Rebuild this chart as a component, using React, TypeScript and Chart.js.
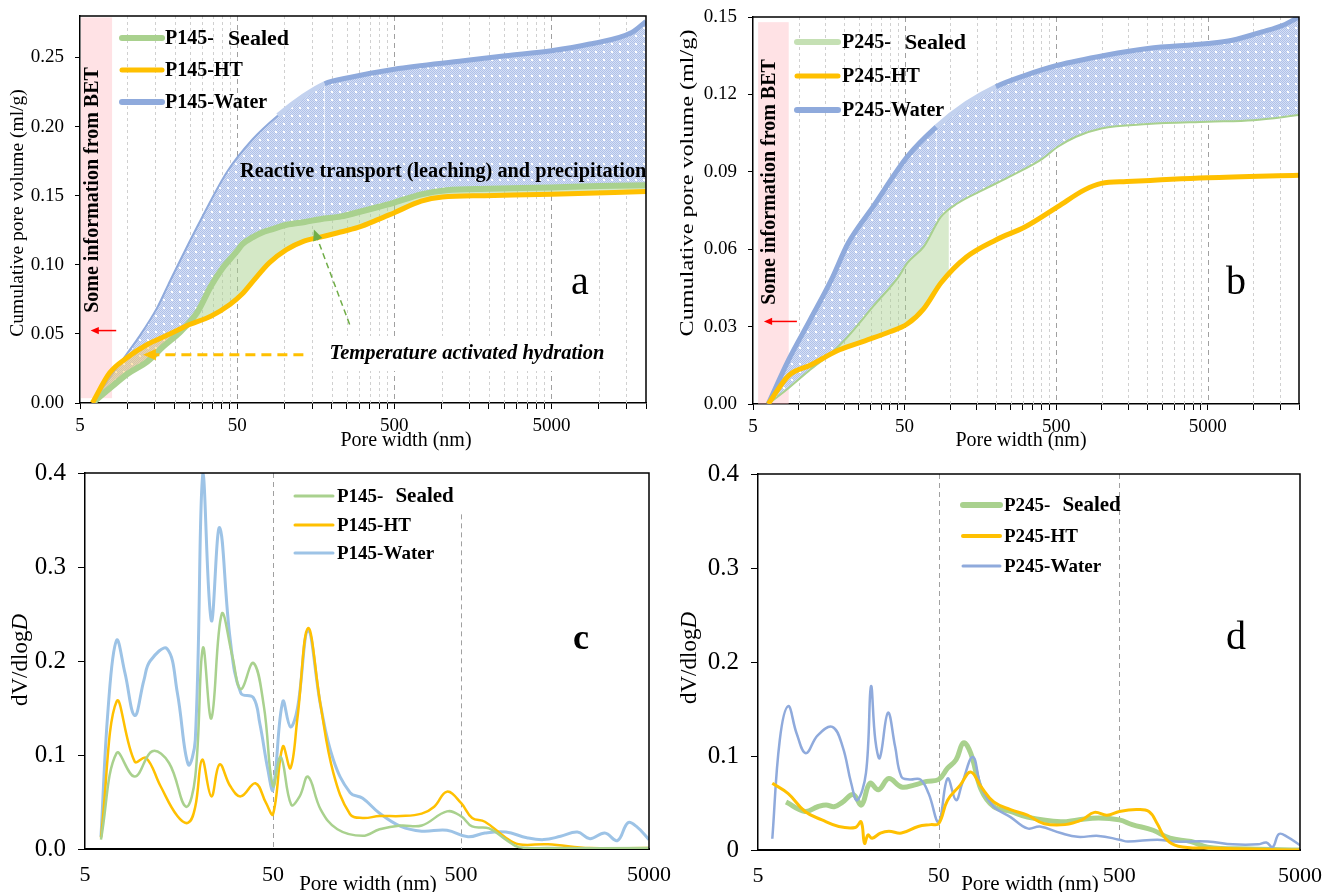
import { useEffect, useRef } from 'react';
import { Chart, registerables } from 'chart.js';
Chart.register(...registerables);

const FONT = '"Liberation Serif", "Times New Roman", serif';

// ---------------- Panel a (cumulative, P145) ----------------
const A_SEALED_X = [6, 8, 10, 13.4, 17, 22, 28, 34, 40, 45, 50, 54, 63, 71, 85, 103, 135, 169, 230, 294, 400, 500, 742, 1075, 2000, 5000, 10000, 20000];
const A_SEALED_Y = [0, 0.012, 0.021, 0.030, 0.041, 0.052, 0.066, 0.0845, 0.097, 0.104, 0.110, 0.115, 0.120, 0.123, 0.126, 0.129, 0.131, 0.133, 0.135, 0.138, 0.142, 0.145, 0.151, 0.154, 0.155, 0.156, 0.157, 0.1575];
const A_HT_X = [6, 7.7, 9.9, 13.4, 18.3, 24.9, 34, 45, 54, 63, 80, 103, 132, 169, 216, 294, 400, 500, 742, 1012, 1874, 5000, 20000];
const A_HT_Y = [0, 0.0217, 0.0326, 0.0423, 0.0495, 0.0568, 0.0628, 0.0713, 0.079, 0.088, 0.1014, 0.111, 0.117, 0.120, 0.123, 0.127, 0.133, 0.1377, 0.146, 0.149, 0.150, 0.151, 0.153];
const A_WATER_X = [6, 8.5, 11.9, 15.5, 18.3, 28, 43, 63, 91, 132, 180, 260, 500, 1376, 2552, 5000, 8770, 16250, 20000];
const A_WATER_Y = [0, 0.025, 0.048, 0.069, 0.086, 0.128, 0.167, 0.191, 0.208, 0.222, 0.231, 0.2355, 0.2415, 0.2476, 0.2512, 0.2548, 0.2597, 0.268, 0.276];

// ---------------- Panel b (cumulative, P245) ----------------
const B_SEALED_X = [6.3, 8.6, 11.9, 16.4, 21.2, 31, 45.7, 52, 67, 87, 112, 165, 258, 405, 513, 676, 993, 2010, 5000, 10000, 20000];
const B_SEALED_Y = [0, 0.0062, 0.0133, 0.0197, 0.0262, 0.0378, 0.0494, 0.0546, 0.061, 0.0726, 0.0778, 0.083, 0.0887, 0.095, 0.0997, 0.1036, 0.1068, 0.1085, 0.1094, 0.110, 0.112];
const B_HT_X = [6.3, 8.6, 11.9, 18.6, 27.4, 40, 52, 67, 87, 128, 200, 313, 513, 769, 993, 1460, 5000, 20000];
const B_HT_Y = [0, 0.011, 0.015, 0.021, 0.0245, 0.028, 0.031, 0.037, 0.047, 0.057, 0.0636, 0.0687, 0.0765, 0.083, 0.0855, 0.0862, 0.0877, 0.0887];
const B_WATER_X = [6.3, 8.6, 11.9, 16.4, 21.2, 31, 52, 81, 128, 200, 313, 513, 1060, 2010, 5000, 7260, 11400, 15700, 20000];
const B_WATER_Y = [0, 0.0172, 0.0326, 0.048, 0.0623, 0.0765, 0.0958, 0.1074, 0.1165, 0.123, 0.1274, 0.1313, 0.1352, 0.1378, 0.1397, 0.141, 0.1442, 0.1468, 0.150];
// shaded Sealed-vs-HT region (upper edge)
const B_GAP_X = [17, 21.2, 31, 45.7, 52, 67, 87, 98];
const B_GAP_Y = [0.0205, 0.0262, 0.0378, 0.0494, 0.0546, 0.061, 0.0726, 0.0752];

// ---------------- Panel c (dV/dlogD, P145) ----------------
const C_SEALED_X = [6.08, 7.36, 9.19, 11.4, 14.0, 17.2, 19.3, 21.2, 23.5, 26.7, 30.4, 33.7, 39.3, 44.7, 50, 55, 62.5, 69.3, 76.8, 89.7, 110, 150, 184.5, 239, 309, 421, 500, 573, 705, 866, 1012, 1450, 5000];
const C_SEALED_Y = [0.01, 0.102, 0.077, 0.104, 0.0915, 0.045, 0.077, 0.214, 0.139, 0.25, 0.205, 0.17, 0.198, 0.152, 0.067, 0.098, 0.047, 0.056, 0.077, 0.042, 0.021, 0.014, 0.021, 0.025, 0.025, 0.04, 0.035, 0.024, 0.022, 0.01, 0.002, 0.001, 0.001];
const C_HT_X = [6.08, 7.36, 9.19, 10.56, 12.6, 15.5, 17.7, 19.3, 21.0, 23.5, 26, 29.6, 33.7, 40.3, 45.9, 50, 56.4, 61.9, 67.5, 76.8, 89.7, 104.7, 128.5, 150, 184.5, 239, 309, 360, 421, 500, 573, 670, 866, 1012, 1450, 2427, 5000];
const C_HT_Y = [0.012, 0.157, 0.093, 0.097, 0.067, 0.035, 0.028, 0.045, 0.095, 0.056, 0.09, 0.067, 0.056, 0.07, 0.049, 0.037, 0.109, 0.086, 0.14, 0.235, 0.152, 0.081, 0.037, 0.033, 0.035, 0.035, 0.0376, 0.045, 0.061, 0.049, 0.033, 0.029, 0.012, 0.005, 0.005, 0.001, 0.001];
const C_WATER_X = [6.08, 6.64, 7.36, 8.16, 9.19, 10.3, 11.1, 13.66, 15.5, 17.7, 19.3, 21.2, 23.5, 26, 29.6, 33.7, 39.3, 42.5, 47, 50, 56.4, 61.9, 67.5, 76.8, 89.7, 104.7, 128.5, 150, 184.5, 239, 309, 421, 545, 670, 866, 1120, 1376, 1693, 2080, 2427, 2910, 3396, 3865, 4285, 5000];
const C_WATER_Y = [0.013, 0.15, 0.222, 0.187, 0.142, 0.18, 0.2, 0.213, 0.166, 0.09, 0.116, 0.40, 0.243, 0.342, 0.223, 0.166, 0.161, 0.134, 0.084, 0.063, 0.157, 0.13, 0.15, 0.232, 0.152, 0.095, 0.06, 0.054, 0.038, 0.024, 0.019, 0.02, 0.013, 0.017, 0.018, 0.012, 0.01, 0.0135, 0.018, 0.011, 0.017, 0.009, 0.028, 0.024, 0.01];

// ---------------- Panel d (dV/dlogD, P245) ----------------
const D_SEALED_X = [7.15, 9.1, 10.7, 11.9, 13.2, 14.7, 16.8, 18.7, 20.8, 23.2, 26.5, 31.1, 36.5, 42.9, 50, 56, 62.4, 68.6, 75.2, 86, 101, 125, 155, 237, 294, 384, 500, 589, 769, 953, 1245, 1541, 2630, 5000];
const D_SEALED_Y = [0.051, 0.041, 0.046, 0.048, 0.046, 0.051, 0.059, 0.048, 0.071, 0.064, 0.076, 0.067, 0.069, 0.073, 0.075, 0.087, 0.096, 0.114, 0.103, 0.064, 0.046, 0.041, 0.035, 0.03, 0.032, 0.034, 0.032, 0.027, 0.021, 0.0125, 0.009, 0.003, 0.001, 0.0];
const D_HT_X = [6.0, 7.35, 9.1, 11.3, 14, 17.3, 18.6, 19.45, 20.3, 21.4, 23.8, 26.5, 31.1, 38.5, 45.2, 50, 56, 65.8, 75.2, 86, 101, 125, 155, 192, 250, 310, 364, 427, 500, 621, 729, 811, 903, 1060, 1541, 5000];
const D_HT_Y = [0.071, 0.06, 0.041, 0.032, 0.025, 0.024, 0.03, 0.007, 0.016, 0.0125, 0.018, 0.02, 0.018, 0.025, 0.027, 0.028, 0.053, 0.069, 0.083, 0.067, 0.051, 0.043, 0.037, 0.028, 0.027, 0.032, 0.04, 0.037, 0.041, 0.043, 0.041, 0.028, 0.012, 0.004, 0.002, 0.0];
const D_WATER_X = [6.0, 6.6, 7.35, 8.18, 9.2, 10.7, 12.9, 14.7, 16.4, 17.7, 19.8, 21.1, 22.3, 23.6, 26.2, 28.7, 31.1, 34.6, 39.6, 44, 50, 56, 62.4, 67.5, 77.3, 86, 101, 125, 155, 182, 237, 294, 384, 500, 558, 811, 1005, 1541, 2125, 2928, 3258, 3530, 3825, 4255, 5000];
const D_WATER_Y = [0.012, 0.117, 0.153, 0.124, 0.103, 0.122, 0.131, 0.11, 0.071, 0.053, 0.082, 0.174, 0.117, 0.098, 0.146, 0.11, 0.078, 0.075, 0.075, 0.06, 0.03, 0.076, 0.053, 0.071, 0.099, 0.067, 0.046, 0.035, 0.023, 0.025, 0.018, 0.014, 0.015, 0.011, 0.009, 0.011, 0.009, 0.009, 0.006, 0.006, 0.008, 0.003, 0.017, 0.014, 0.005];

// ---------------- Axes ----------------
const AB_X_TICKS = [5, 10, 15, 20, 25, 30, 35, 40, 45, 50, 100, 150, 200, 250, 300, 350, 400, 450, 500, 1000, 1500, 2000, 2500, 3000, 3500, 4000, 4500, 5000, 10000, 15000, 20000];
const AB_X_MINOR_GRID = [10, 15, 20, 25, 30, 35, 40, 45, 100, 150, 200, 250, 300, 350, 400, 450, 1000, 1500, 2000, 2500, 3000, 3500, 4000, 4500, 10000, 15000];
const MAJOR_GRID = [50, 500, 5000];
const X_LABELS = [5, 50, 500, 5000];
const A_Y_TICKS = [0, 0.05, 0.1, 0.15, 0.2, 0.25];
const B_Y_TICKS = [0, 0.03, 0.06, 0.09, 0.12, 0.15];
const CD_Y_TICKS = [0, 0.1, 0.2, 0.3, 0.4];

const GREEN = '#a9d18e';
const ORANGE = '#ffc000';
const BLUE = '#8faadc';
const LIGHTBLUE = '#9dc3e6';

const pts = (xs: number[], ys: number[]) => xs.map((x, i) => ({ x, y: ys[i] }));

function txt(ctx: any, s: string, x: number, y: number, font: string, o: any = {}) {
  ctx.save();
  ctx.font = font;
  ctx.fillStyle = o.color || '#000';
  ctx.textAlign = o.align || 'center';
  ctx.textBaseline = 'middle';
  ctx.translate(x, y);
  if (o.rot) ctx.rotate(o.rot);
  if (o.sx) ctx.scale(o.sx, 1);
  ctx.fillText(s, 0, 0);
  ctx.restore();
}

function arrow(ctx: any, x1: number, y1: number, x2: number, y2: number, color: string, width: number, dash: number[], head: number) {
  ctx.save();
  const ang = Math.atan2(y2 - y1, x2 - x1);
  ctx.strokeStyle = color;
  ctx.lineWidth = width;
  ctx.setLineDash(dash);
  ctx.beginPath();
  ctx.moveTo(x1, y1);
  ctx.lineTo(x2 - Math.cos(ang) * head * 0.7, y2 - Math.sin(ang) * head * 0.7);
  ctx.stroke();
  ctx.setLineDash([]);
  ctx.fillStyle = color;
  ctx.beginPath();
  ctx.moveTo(x2, y2);
  ctx.lineTo(x2 - head * Math.cos(ang - 0.42), y2 - head * Math.sin(ang - 0.42));
  ctx.lineTo(x2 - head * Math.cos(ang + 0.42), y2 - head * Math.sin(ang + 0.42));
  ctx.closePath();
  ctx.fill();
  ctx.restore();
}

function vline(ctx: any, x: number, y1: number, y2: number, color: string, dash: number[], w = 1) {
  ctx.save();
  ctx.strokeStyle = color;
  ctx.lineWidth = w;
  ctx.setLineDash(dash);
  ctx.beginPath();
  ctx.moveTo(Math.round(x) + 0.5, y1);
  ctx.lineTo(Math.round(x) + 0.5, y2);
  ctx.stroke();
  ctx.restore();
}

function legend(ctx: any, x1: number, x2: number, tx: number, rows: any[]) {
  rows.forEach((r) => {
    ctx.save();
    ctx.strokeStyle = r.color;
    ctx.lineWidth = r.width;
    ctx.lineCap = 'round';
    ctx.beginPath();
    ctx.moveTo(x1, r.y);
    ctx.lineTo(x2, r.y);
    ctx.stroke();
    ctx.restore();
    let x = tx;
    r.parts.forEach((p: any) => {
      ctx.save();
      ctx.font = p.font;
      ctx.fillStyle = '#000';
      ctx.textAlign = 'left';
      ctx.textBaseline = 'middle';
      ctx.fillText(p.t, x, r.y + 1);
      x += ctx.measureText(p.t).width + (p.gap || 0);
      ctx.restore();
    });
  });
}

function dvTitle(ctx: any, x: number, y: number, size: number) {
  ctx.save();
  ctx.translate(x, y);
  ctx.rotate(-Math.PI / 2);
  ctx.textBaseline = 'middle';
  ctx.textAlign = 'left';
  ctx.fillStyle = '#000';
  const f1 = `${size}px ${FONT}`;
  const f2 = `italic ${size}px ${FONT}`;
  ctx.font = f1;
  const w1 = ctx.measureText('dV/dlog').width;
  ctx.font = f2;
  const w2 = ctx.measureText('D').width;
  const start = -(w1 + w2) / 2;
  ctx.font = f1;
  ctx.fillText('dV/dlog', start, 0);
  ctx.font = f2;
  ctx.fillText('D', start + w1, 0);
  ctx.restore();
}

function makePattern() {
  const c = document.createElement('canvas');
  c.width = 8;
  c.height = 8;
  const g = c.getContext('2d') as CanvasRenderingContext2D;
  g.fillStyle = '#d6e0f5';
  g.fillRect(0, 0, 8, 8);
  g.fillStyle = '#afc1e9';
  for (let y = 0; y < 8; y++) for (let x = 0; x < 8; x++) if ((x + y) % 2 === 0) g.fillRect(x, y, 1, 1);
  g.fillStyle = '#ffffff';
  g.fillRect(3, 3, 2, 2);
  return g.createPattern(c, 'repeat');
}

function makeChart(canvas: HTMLCanvasElement, P: any) {
  const [ox, oy] = P.off;
  const yW = P.area.l - ox;
  const padTop = P.area.t - oy;
  const padRight = P.w - (P.area.r - ox);
  const xH = P.h - (P.area.b - oy);
  const tickFont = (s: number) => ({ family: FONT, size: s });
  const zeroPad = (s: any) => {
    s.paddingLeft = 0;
    s.paddingRight = 0;
    s.paddingTop = 0;
    s.paddingBottom = 0;
  };
  const decor = {
    id: 'decor',
    beforeDatasetsDraw(chart: any) {
      const ctx = chart.ctx;
      const X = (v: number) => chart.scales.x.getPixelForValue(v) + ox;
      const Y = (v: number) => chart.scales.y.getPixelForValue(v) + oy;
      ctx.save();
      ctx.translate(-ox, -oy);
      P.before && P.before(ctx, X, Y);
      ctx.restore();
    },
    afterDatasetsDraw(chart: any) {
      const ctx = chart.ctx;
      const X = (v: number) => chart.scales.x.getPixelForValue(v) + ox;
      const Y = (v: number) => chart.scales.y.getPixelForValue(v) + oy;
      ctx.save();
      ctx.translate(-ox, -oy);
      P.after && P.after(ctx, X, Y);
      ctx.restore();
    },
    afterDraw(chart: any) {
      const ctx = chart.ctx;
      const a = chart.chartArea;
      ctx.save();
      ctx.strokeStyle = '#000';
      ctx.lineWidth = 1.5;
      ctx.beginPath();
      ctx.moveTo(a.left, a.top);
      ctx.lineTo(a.right, a.top);
      ctx.lineTo(a.right, a.bottom);
      ctx.stroke();
      ctx.translate(-ox, -oy);
      P.titles && P.titles(ctx);
      ctx.restore();
    },
  };
  return new Chart(canvas, {
    type: 'line',
    data: { datasets: P.datasets },
    plugins: [decor],
    options: {
      animation: false,
      responsive: false,
      maintainAspectRatio: false,
      devicePixelRatio: 1,
      parsing: false,
      normalized: true,
      layout: { autoPadding: false, padding: { left: 0, top: padTop, right: padRight, bottom: 0 } },
      plugins: { legend: { display: false }, tooltip: { enabled: false }, title: { display: false } },
      elements: { point: { radius: 0, hoverRadius: 0 } },
      scales: {
        x: {
          type: 'logarithmic',
          min: 5,
          max: P.xMax,
          afterBuildTicks: (s: any) => {
            s.ticks = P.xTicks.map((v: number) => ({ value: v }));
          },
          afterFit: (s: any) => {
            s.height = xH;
            zeroPad(s);
          },
          ticks: {
            autoSkip: false,
            maxRotation: 0,
            minRotation: 0,
            padding: P.xPad,
            color: '#000',
            font: tickFont(P.xFont),
            callback: (v: any) => (X_LABELS.includes(Number(v)) ? String(v) : ''),
          },
          grid: { display: true, drawOnChartArea: false, drawTicks: P.xTickLen > 0, tickLength: P.xTickLen, color: '#000', lineWidth: 1 },
          border: { display: true, color: '#000', width: P.xBorder || 1.5 },
        },
        y: {
          type: 'linear',
          min: 0,
          max: P.yMax,
          afterBuildTicks: (s: any) => {
            s.ticks = P.yTicks.map((v: number) => ({ value: v }));
          },
          afterFit: (s: any) => {
            s.width = yW;
            zeroPad(s);
          },
          ticks: {
            padding: P.yPad,
            color: '#000',
            font: tickFont(P.yFont),
            callback: (v: any) => P.yFmt(Number(v)),
          },
          grid: { display: true, drawOnChartArea: false, drawTicks: true, tickLength: P.yTickLen, color: '#000', lineWidth: 1 },
          border: { display: true, color: '#000', width: 1.5 },
        },
      },
    } as any,
  });
}

function line(data: any, color: string, width: number, extra: any = {}) {
  return { data, borderColor: color, borderWidth: width, pointRadius: 0, fill: false, ...extra };
}

function abGrid(ctx: any, X: any, Y: any, yTopVal: number) {
  const t = Y(yTopVal);
  const b = Y(0);
  AB_X_MINOR_GRID.forEach((v) => vline(ctx, X(v), t, b, '#d0d0d0', [3, 3]));
  MAJOR_GRID.forEach((v) => vline(ctx, X(v), t, b, '#a0a0a0', [5, 4]));
}

function chartA(canvas: HTMLCanvasElement) {
  const pattern = makePattern();
  return makeChart(canvas, {
    off: [0, 0], w: 660, h: 460,
    area: { l: 80, t: 16, r: 646, b: 403 },
    xMax: 20000, xTicks: AB_X_TICKS, xTickLen: 6, xPad: 6, xFont: 19,
    yMax: 0.28, yTicks: A_Y_TICKS, yTickLen: 5, yPad: 11, yFont: 19, yFmt: (v: number) => v.toFixed(2),
    datasets: [
      line(pts(A_HT_X, A_HT_Y), ORANGE, 5, { cubicInterpolationMode: 'monotone' }),
      line(pts(A_SEALED_X, A_SEALED_Y), GREEN, 6, {
        cubicInterpolationMode: 'monotone',
        fill: { target: 0, above: 'rgba(169,209,142,0.5)', below: 'rgba(255,200,90,0.45)' },
      }),
      line(pts(A_WATER_X, A_WATER_Y), BLUE, 5, {
        cubicInterpolationMode: 'monotone',
        backgroundColor: pattern,
        fill: { target: 1, above: pattern, below: pattern },
        segment: {
          borderWidth: (c: any) => (c.p0.parsed.x < 88 ? 2 : 5),
          borderColor: (c: any) => (c.p0.parsed.x >= 88 && c.p0.parsed.x < 175 ? '#c3d2ef' : BLUE),
        },
      }),
    ],
    before: (ctx: any, X: any, Y: any) => {
      abGrid(ctx, X, Y, 0.28);
      ctx.fillStyle = 'rgba(255,190,198,0.45)';
      ctx.fillRect(X(5) + 1, Y(0.279), X(8) - X(5) - 1, Y(0.0035) - Y(0.279));
    },
    after: (ctx: any, X: any, Y: any) => {
      txt(ctx, 'Some information from BET', 93, 190, `bold 20px ${FONT}`, { rot: -Math.PI / 2 });
      arrow(ctx, X(8.5), Y(0.0524), X(5.84), Y(0.0524), '#ff0000', 1.5, [], 9);
      legend(ctx, 122, 162, 165, [
        { y: 38, color: GREEN, width: 6, parts: [{ t: 'P145-', font: `bold 20px ${FONT}`, gap: 14 }, { t: 'Sealed', font: `bold 22px ${FONT}` }] },
        { y: 70, color: ORANGE, width: 5, parts: [{ t: 'P145-HT', font: `bold 20px ${FONT}` }] },
        { y: 102, color: BLUE, width: 6, parts: [{ t: 'P145-Water', font: `bold 20px ${FONT}` }] },
      ]);
      txt(ctx, 'Reactive transport (leaching) and precipitation', 240, 172, `bold 20.3px ${FONT}`, { align: 'left' });
      arrow(ctx, X(260), Y(0.0568), X(154), Y(0.1256), '#70ad47', 1.5, [6, 4], 12);
      arrow(ctx, X(132), Y(0.035), X(12.6), Y(0.035), ORANGE, 3, [10, 6], 14);
      ctx.fillStyle = '#ffffff';
      ctx.fillRect(326, 336, 284, 35);
      txt(ctx, 'Temperature activated hydration', 467, 354, `italic bold 20.5px ${FONT}`);
      txt(ctx, 'a', 580, 283, `40px ${FONT}`);
    },
    titles: (ctx: any) => {
      txt(ctx, 'Pore width (nm)', 406, 441, `20px ${FONT}`);
      txt(ctx, 'Cumulative pore volume (ml/g)', 18, 213, `19.5px ${FONT}`, { rot: -Math.PI / 2 });
    },
  });
}

function chartB(canvas: HTMLCanvasElement) {
  const pattern = makePattern();
  return makeChart(canvas, {
    off: [660, 0], w: 663, h: 460,
    area: { l: 753, t: 17, r: 1299, b: 404 },
    xMax: 20000, xTicks: AB_X_TICKS, xTickLen: 6, xPad: 6, xFont: 19,
    yMax: 0.15, yTicks: B_Y_TICKS, yTickLen: 5, yPad: 11, yFont: 19, yFmt: (v: number) => v.toFixed(2),
    datasets: [
      line(pts(B_HT_X, B_HT_Y), ORANGE, 5, { cubicInterpolationMode: 'monotone' }),
      line(pts(B_SEALED_X, B_SEALED_Y), GREEN, 2, { cubicInterpolationMode: 'monotone' }),
      line(pts(B_WATER_X, B_WATER_Y), BLUE, 5, {
        cubicInterpolationMode: 'monotone',
        backgroundColor: pattern,
        fill: { target: 1, above: pattern, below: pattern },
        segment: {
          borderColor: (c: any) => (c.p0.parsed.x >= 78 && c.p0.parsed.x < 195 ? '#c3d2ef' : BLUE),
        },
      }),
      line(pts(B_GAP_X, B_GAP_Y), 'rgba(0,0,0,0)', 0, {
        cubicInterpolationMode: 'monotone',
        fill: { target: 0, above: 'rgba(169,209,142,0.45)', below: 'rgba(169,209,142,0.45)' },
      }),
    ],
    before: (ctx: any, X: any, Y: any) => {
      abGrid(ctx, X, Y, 0.15);
      ctx.fillStyle = 'rgba(255,190,198,0.45)';
      ctx.fillRect(X(5.4), Y(0.148), X(8.6) - X(5.4), Y(0) - Y(0.148));
    },
    after: (ctx: any, X: any, Y: any) => {
      txt(ctx, 'Some information from BET', 770, 182, `bold 20px ${FONT}`, { rot: -Math.PI / 2 });
      arrow(ctx, X(9.74), Y(0.032), X(5.9), Y(0.032), '#ff0000', 1.5, [], 9);
      legend(ctx, 797, 838, 842, [
        { y: 42, color: '#c5e0b4', width: 6, parts: [{ t: 'P245-', font: `bold 20px ${FONT}`, gap: 14 }, { t: 'Sealed', font: `bold 22px ${FONT}` }] },
        { y: 76, color: ORANGE, width: 5, parts: [{ t: 'P245-HT', font: `bold 20px ${FONT}` }] },
        { y: 110, color: BLUE, width: 6, parts: [{ t: 'P245-Water', font: `bold 20px ${FONT}` }] },
      ]);
      txt(ctx, 'b', 1236, 283, `40px ${FONT}`);
    },
    titles: (ctx: any) => {
      txt(ctx, 'Pore width (nm)', 1021, 441, `20px ${FONT}`);
      txt(ctx, 'Cumulative pore volume (ml/g)', 688, 183, `19.5px ${FONT}`, { rot: -Math.PI / 2, sx: 1.24 });
    },
  });
}

function chartC(canvas: HTMLCanvasElement) {
  return makeChart(canvas, {
    off: [0, 460], w: 690, h: 432,
    area: { l: 85, t: 473, r: 649, b: 849 },
    xMax: 5000, xTicks: X_LABELS, xTickLen: 0, xPad: 13, xFont: 22, xBorder: 2,
    yMax: 0.4, yTicks: CD_Y_TICKS, yTickLen: 7, yPad: 12, yFont: 25, yFmt: (v: number) => v.toFixed(1),
    datasets: [
      line(pts(C_SEALED_X, C_SEALED_Y), GREEN, 2.5, { tension: 0.4 }),
      line(pts(C_HT_X, C_HT_Y), ORANGE, 2.5, { tension: 0.4 }),
      line(pts(C_WATER_X, C_WATER_Y), LIGHTBLUE, 3, { tension: 0.4 }),
    ],
    before: (ctx: any, X: any, Y: any) => {
      vline(ctx, X(50), Y(0.4), Y(0), '#a0a0a0', [5, 4]);
      vline(ctx, X(500), Y(0.356), Y(0), '#a0a0a0', [5, 4]);
    },
    after: (ctx: any) => {
      legend(ctx, 295, 333, 337, [
        { y: 496, color: GREEN, width: 3, parts: [{ t: 'P145-', font: `bold 19px ${FONT}`, gap: 12 }, { t: 'Sealed', font: `bold 21px ${FONT}` }] },
        { y: 525, color: ORANGE, width: 3, parts: [{ t: 'P145-HT', font: `bold 19px ${FONT}` }] },
        { y: 553, color: LIGHTBLUE, width: 3, parts: [{ t: 'P145-Water', font: `bold 19px ${FONT}` }] },
      ]);
      txt(ctx, 'c', 581, 640, `bold 36px ${FONT}`);
    },
    titles: (ctx: any) => {
      txt(ctx, 'Pore width (nm)', 368, 884, `21px ${FONT}`);
      dvTitle(ctx, 21, 660, 23);
    },
  });
}

function chartD(canvas: HTMLCanvasElement) {
  return makeChart(canvas, {
    off: [660, 460], w: 663, h: 432,
    area: { l: 758, t: 474, r: 1300, b: 850 },
    xMax: 5000, xTicks: X_LABELS, xTickLen: 0, xPad: 13, xFont: 22, xBorder: 2,
    yMax: 0.4, yTicks: CD_Y_TICKS, yTickLen: 7, yPad: 12, yFont: 25, yFmt: (v: number) => (v === 0 ? '0' : v.toFixed(1)),
    datasets: [
      line(pts(D_HT_X, D_HT_Y), ORANGE, 3, { tension: 0.4 }),
      line(pts(D_WATER_X, D_WATER_Y), BLUE, 2.5, { tension: 0.4 }),
      line(pts(D_SEALED_X, D_SEALED_Y), GREEN, 5, { tension: 0.4 }),
    ],
    before: (ctx: any, X: any, Y: any) => {
      vline(ctx, X(50), Y(0.4), Y(0), '#a0a0a0', [5, 4]);
      vline(ctx, X(500), Y(0.4), Y(0), '#a0a0a0', [5, 4]);
    },
    after: (ctx: any) => {
      legend(ctx, 963, 1000, 1004, [
        { y: 505, color: GREEN, width: 6, parts: [{ t: 'P245-', font: `bold 19px ${FONT}`, gap: 12 }, { t: 'Sealed', font: `bold 21px ${FONT}` }] },
        { y: 536, color: ORANGE, width: 4, parts: [{ t: 'P245-HT', font: `bold 19px ${FONT}` }] },
        { y: 566, color: BLUE, width: 3, parts: [{ t: 'P245-Water', font: `bold 19px ${FONT}` }] },
      ]);
      txt(ctx, 'd', 1236, 638, `40px ${FONT}`);
    },
    titles: (ctx: any) => {
      txt(ctx, 'Pore width (nm)', 1030, 884, `21px ${FONT}`);
      dvTitle(ctx, 690, 658, 23);
    },
  });
}

export default function App() {
  const ra = useRef<HTMLCanvasElement>(null);
  const rb = useRef<HTMLCanvasElement>(null);
  const rc = useRef<HTMLCanvasElement>(null);
  const rd = useRef<HTMLCanvasElement>(null);
  useEffect(() => {
    Chart.defaults.font.family = FONT;
    const charts = [
      chartA(ra.current as HTMLCanvasElement),
      chartB(rb.current as HTMLCanvasElement),
      chartC(rc.current as HTMLCanvasElement),
      chartD(rd.current as HTMLCanvasElement),
    ];
    return () => charts.forEach((c) => c.destroy());
  }, []);
  const abs = (l: number, t: number) => ({ position: 'absolute' as const, left: l, top: t });
  return (
    <div style={{ position: 'absolute', left: 0, top: 0, width: 1323, height: 892, background: '#fff', overflow: 'hidden' }}>
      <canvas ref={ra} width={660} height={460} style={abs(0, 0)} />
      <canvas ref={rb} width={663} height={460} style={abs(660, 0)} />
      <canvas ref={rc} width={690} height={432} style={abs(0, 460)} />
      <canvas ref={rd} width={663} height={432} style={abs(660, 460)} />
    </div>
  );
}
